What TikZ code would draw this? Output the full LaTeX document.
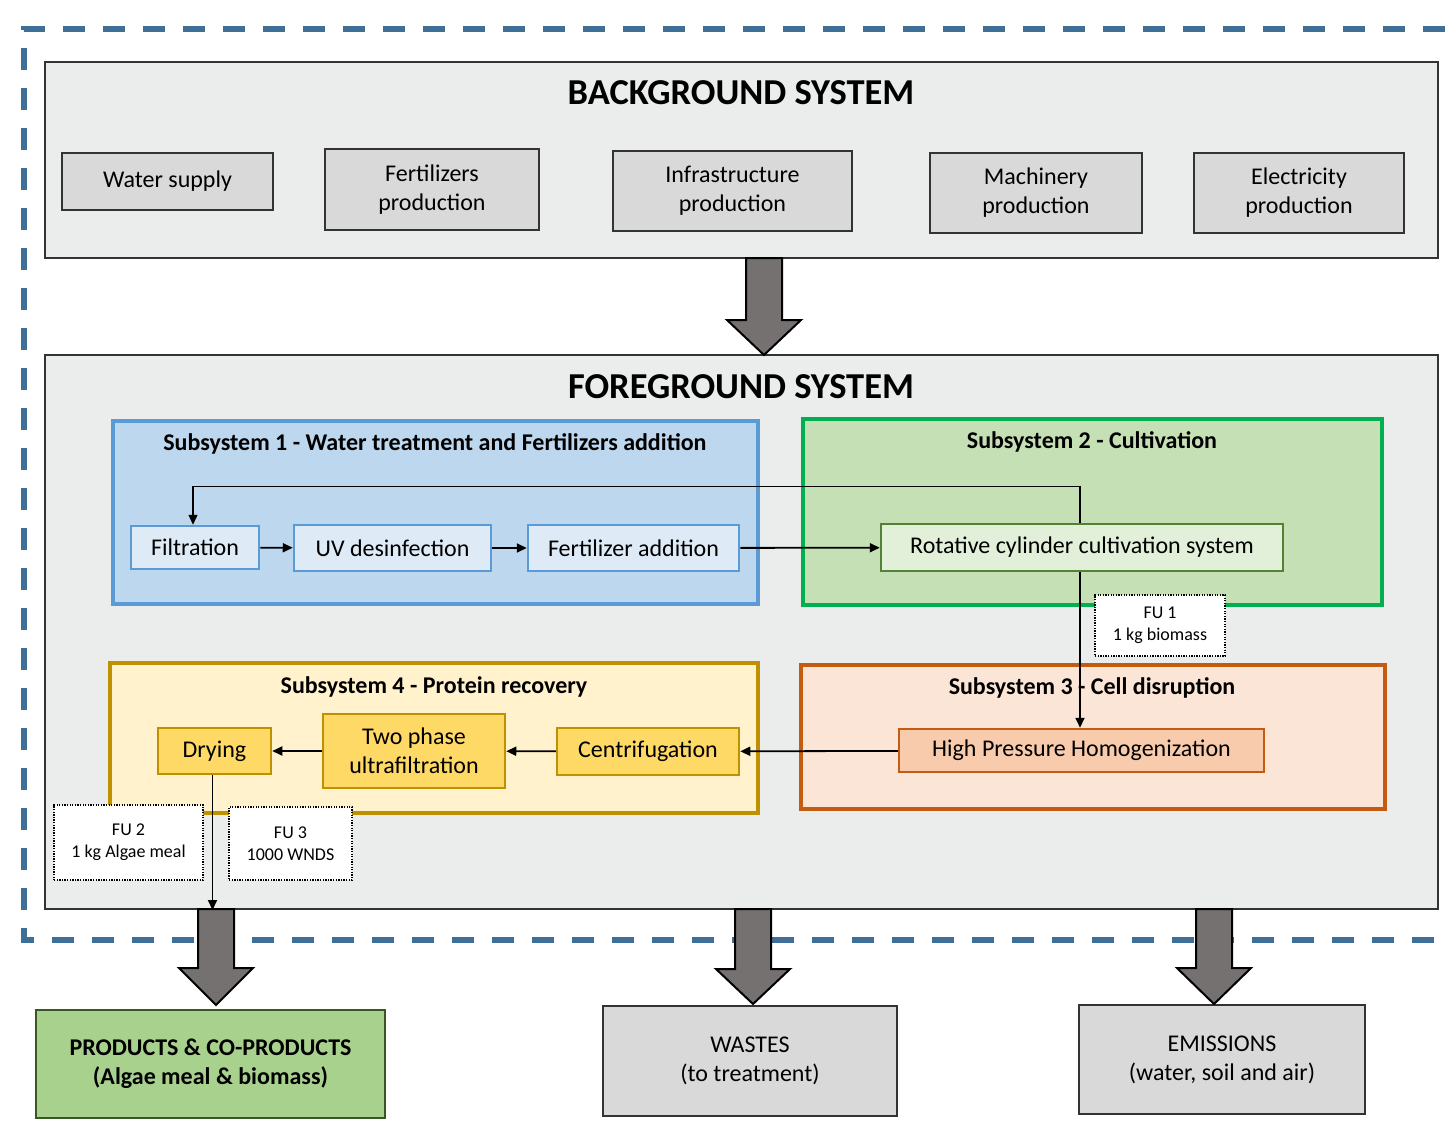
\documentclass[tikz,border=0pt]{standalone}
\usepackage{fontspec}
\setmainfont{Carlito}
\usetikzlibrary{arrows.meta,calc}
\definecolor{dashblue}{HTML}{3F6E96}
\definecolor{bgfill}{HTML}{EBECEC}
\definecolor{boxgray}{HTML}{D9D9D9}
\definecolor{edgegray}{HTML}{333333}
\definecolor{sOneFill}{HTML}{BDD7EE}
\definecolor{sOneEdge}{HTML}{5B9BD5}
\definecolor{sOneIn}{HTML}{DEEBF7}
\definecolor{sTwoFill}{HTML}{C5E0B4}
\definecolor{sTwoEdge}{HTML}{00B050}
\definecolor{sTwoIn}{HTML}{E2F0D9}
\definecolor{sTwoInEdge}{HTML}{548235}
\definecolor{sThrFill}{HTML}{FBE5D6}
\definecolor{sThrEdge}{HTML}{C55A11}
\definecolor{sThrIn}{HTML}{F8CBAD}
\definecolor{sFouFill}{HTML}{FFF2CC}
\definecolor{sFouEdge}{HTML}{BF9000}
\definecolor{sFouIn}{HTML}{FFD966}
\definecolor{prodFill}{HTML}{A9D18E}
\definecolor{prodEdge}{HTML}{385723}
\definecolor{fatgray}{HTML}{767171}
\newcommand{\txt}{\fontsize{24}{29}\selectfont}
\newcommand{\smalltxt}{\fontsize{18}{22}\selectfont}
\newcommand{\bigtitle}{\fontsize{36.5}{40}\selectfont\bfseries}
\newcommand{\subtitle}{\fontsize{24}{27}\selectfont\bfseries}
\newcommand{\fatarrow}[4]{%
  \path[fatarr] (#1-18,#2) -- (#1-18,#3) -- (#1-37,#3) -- (#1,#4) -- (#1+37,#3) -- (#1+18,#3) -- (#1+18,#2) -- cycle;}
\tikzset{
  frame/.style={draw=edgegray, line width=2, fill=bgfill, inner sep=0},
  graybox/.style={draw=edgegray, line width=2, fill=boxgray, font=\txt, align=center, inner sep=2},
  subbox/.style={line width=4, inner sep=0},
  procbox/.style={line width=2.5, font=\txt, align=center, inner sep=2},
  fubox/.style={draw=black, line width=1.3, dash pattern=on 1.3pt off 1.3pt, fill=white, font=\smalltxt, align=center, inner sep=2},
  flow/.style={draw=black, line width=1.8, -{Triangle[length=10pt,width=9pt]}},
  thinflow/.style={draw=black, line width=1.3, -{Triangle[length=10pt,width=9pt]}},
  fatarr/.style={fill=fatgray, draw=black, line width=2, line join=miter},
  boundary/.style={draw=dashblue, line width=6, dash pattern=on 22pt off 18pt}
}
\begin{document}
\begin{tikzpicture}[x=1pt,y=-1pt]
\useasboundingbox (0,0) rectangle (1445,1143);
% system boundary
\draw[boundary] (1445,29) -- (24,29) -- (24,940) -- (1445,940);
% background system
\node[frame, minimum width=1393, minimum height=196] (bg) at (741.5,160) {};
\node[font=\bigtitle] (bgt) at (741,93) {BACKGROUND SYSTEM};
\node[graybox, minimum width=211, minimum height=57] (ws) at (167.5,181.5) {Water supply};
\node[graybox, minimum width=214, minimum height=81] (fp) at (432,189.5) {Fertilizers\\production};
\node[graybox, minimum width=239, minimum height=80] (ip) at (732.5,191) {Infrastructure\\production};
\node[graybox, minimum width=212, minimum height=80] (mp) at (1036,193) {Machinery\\production};
\node[graybox, minimum width=210, minimum height=80] (ep) at (1299,193) {Electricity\\production};
% foreground system
\node[frame, minimum width=1393, minimum height=554] (fg) at (741.5,632) {};
\node[font=\bigtitle] (fgt) at (741,387) {FOREGROUND SYSTEM};
% subsystems
\node[subbox, draw=sOneEdge, fill=sOneFill, minimum width=645, minimum height=183] (s1) at (435.5,512.5) {};
\node[font=\subtitle] (s1t) at (435,444) {Subsystem 1 - Water treatment and Fertilizers addition};
\node[subbox, draw=sTwoEdge, fill=sTwoFill, minimum width=579, minimum height=186] (s2) at (1092.5,512) {};
\node[font=\subtitle] (s2t) at (1092,442) {Subsystem 2 - Cultivation};
\node[subbox, draw=sThrEdge, fill=sThrFill, minimum width=584, minimum height=144] (s3) at (1093,737) {};
\node[font=\subtitle] (s3t) at (1092,688) {Subsystem 3 - Cell disruption};
\node[subbox, draw=sFouEdge, fill=sFouFill, minimum width=648, minimum height=150] (s4) at (434,738) {};
\node[font=\subtitle] (s4t) at (434,687) {Subsystem 4 - Protein recovery};
% processes
\node[procbox, draw=sOneEdge, fill=sOneIn, minimum width=128, minimum height=43] (filt) at (195,547.5) {Filtration};
\node[procbox, draw=sOneEdge, fill=sOneIn, minimum width=197, minimum height=46] (uv) at (392.5,548) {UV desinfection};
\node[procbox, draw=sOneEdge, fill=sOneIn, minimum width=211, minimum height=46] (fa) at (633.5,548) {Fertilizer addition};
\node[procbox, draw=sTwoInEdge, fill=sTwoIn, minimum width=402, minimum height=47] (rot) at (1082,547.5) {Rotative cylinder cultivation system};
\node[procbox, draw=sThrEdge, fill=sThrIn, minimum width=365, minimum height=43] (hph) at (1081.5,750.5) {High Pressure Homogenization};
\node[procbox, draw=sFouEdge, fill=sFouIn, minimum width=182, minimum height=47] (cen) at (648,751.5) {Centrifugation};
\node[procbox, draw=sFouEdge, fill=sFouIn, minimum width=182, minimum height=74] (two) at (414,751) {Two phase\\ultrafiltration};
\node[procbox, draw=sFouEdge, fill=sFouIn, minimum width=113, minimum height=46] (dry) at (214.5,751) {Drying};
% functional units
\node[fubox, minimum width=130, minimum height=61] (fu1) at (1160,625.5) {FU 1\\1 kg biomass};
\node[fubox, minimum width=149, minimum height=75] (fu2) at (128.5,842.5) {FU 2\\1 kg Algae meal};
\node[fubox, minimum width=123, minimum height=73] (fu3) at (290.5,843.5) {FU 3\\1000 WNDS};
% flows
\draw[flow] (filt) -- (uv);
\draw[flow] (uv) -- (fa);
\draw[flow] (fa) -- (rot);
\draw[thinflow] ($(rot.north)+(-2,0)$) -- ++(0,-36) -| ($(filt.north)+(-2,0)$);
\draw[flow] ($(rot.south)+(-2,0)$) -- ($(hph.north)+(-1.5,0)$);
\draw[flow] (hph) -- (cen);
\draw[flow] (cen) -- (two);
\draw[flow] (two) -- (dry);
\coordinate (dryout) at (dry.south |- fg.south);
\draw[flow] ($(dry.south)+(-2,0)$) -- ($(dryout)+(-2,0)$);
% outputs
\node[graybox, draw=prodEdge, fill=prodFill, font=\txt\bfseries, minimum width=349, minimum height=108] (prod) at (210.5,1064) {PRODUCTS \& CO-PRODUCTS\\(Algae meal \& biomass)};
\node[graybox, minimum width=294, minimum height=110] (wst) at (750,1061) {WASTES\\(to treatment)};
\node[graybox, minimum width=286, minimum height=109] (ems) at (1222,1059.5) {EMISSIONS\\(water, soil and air)};
% fat arrows
\fatarrow{764}{258}{320}{355}
\fatarrow{216}{909}{968}{1005}
\fatarrow{753}{909}{969}{1004}
\fatarrow{1214}{909}{968}{1004}
\end{tikzpicture}
\end{document}
